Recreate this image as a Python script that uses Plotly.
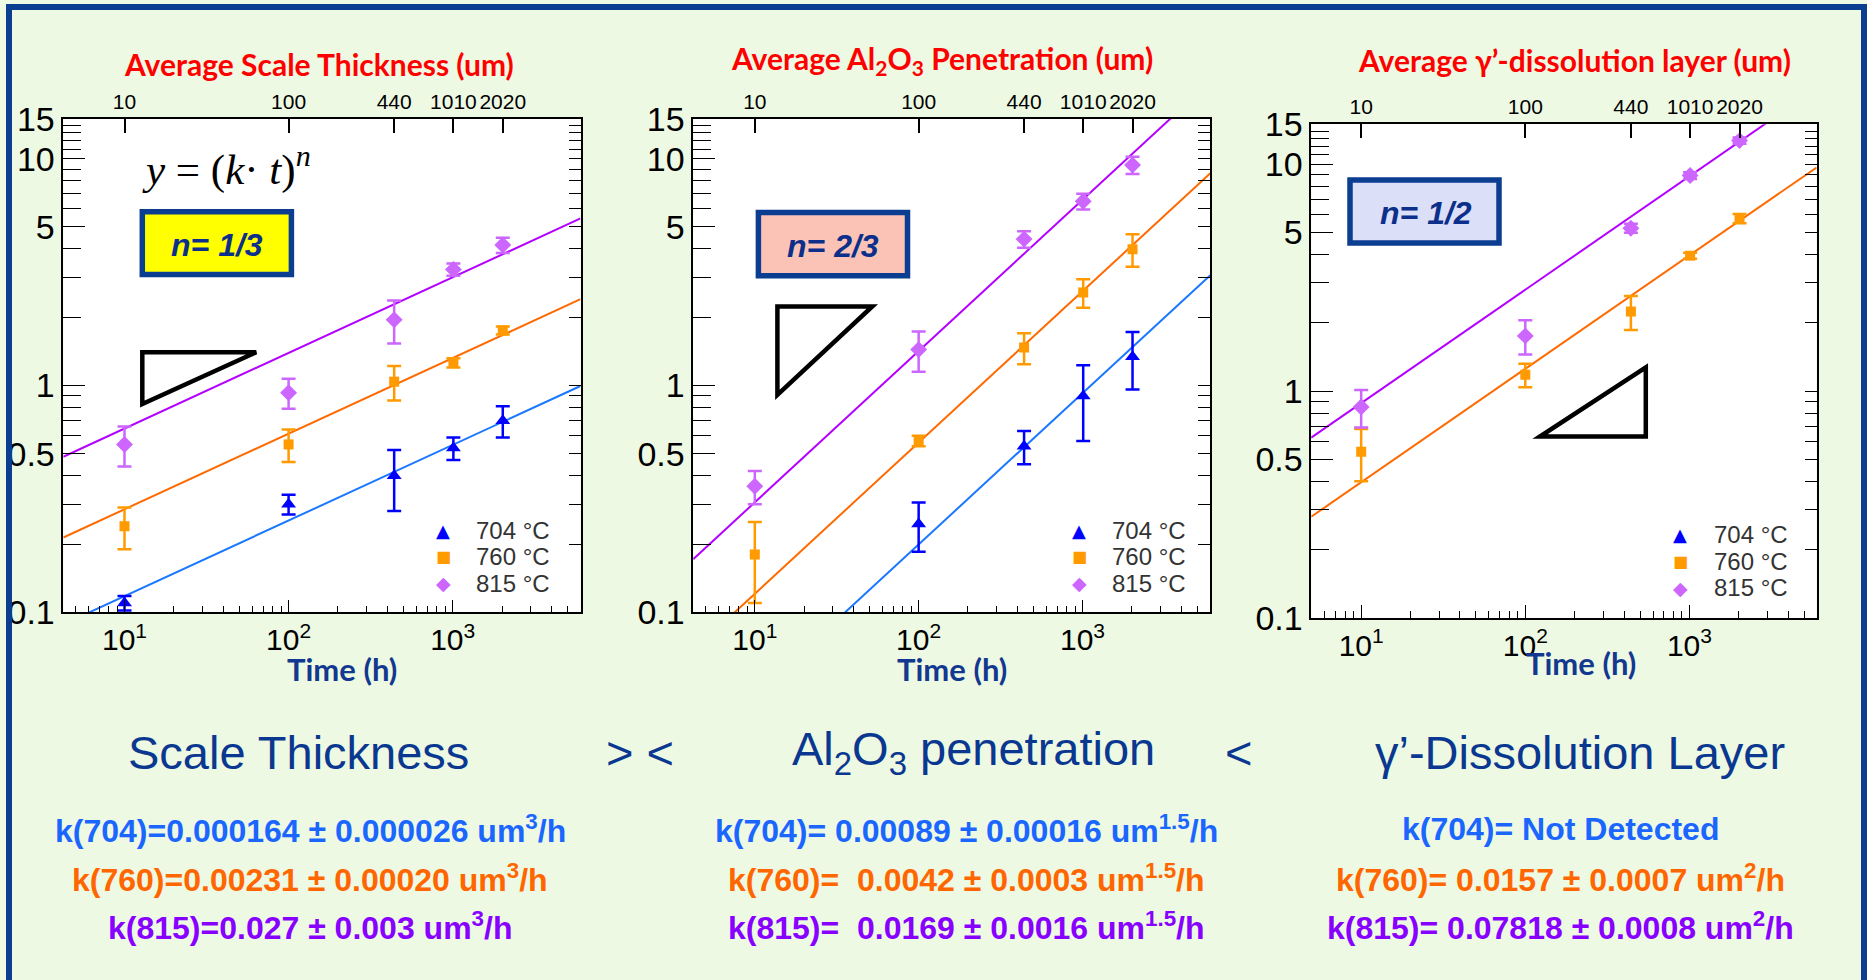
import plotly.graph_objects as go
import math

# ---------------- data ----------------
times = [10, 100, 440, 1010, 2020]
temps = ["704 °C", "760 °C", "815 °C"]

# Panel 1: average scale thickness (um)
scale_704 = [0.11, 0.30, 0.40, 0.53, 0.70]
scale_704_err = [0.008, 0.03, 0.12, 0.06, 0.11]
scale_760 = [0.24, 0.55, 1.04, 1.26, 1.75]
scale_760_err = [0.05, 0.09, 0.18, 0.06, 0.07]
scale_815 = [0.55, 0.93, 1.95, 3.25, 4.16]
scale_815_err = [0.11, 0.14, 0.42, 0.20, 0.32]

# Panel 2: average Al2O3 penetration (um)
pen_times_704 = [100, 440, 1010, 2020]
pen_704 = [0.245, 0.54, 0.90, 1.34]
pen_704_err = [0.06, 0.09, 0.33, 0.38]
pen_760 = [0.18, 0.57, 1.47, 2.57, 3.99]
pen_760_err = [0.07, 0.03, 0.23, 0.37, 0.65]
pen_815 = [0.36, 1.44, 4.42, 6.49, 9.38]
pen_815_err = [0.06, 0.29, 0.37, 0.52, 0.82]

# Panel 3: average gamma'-dissolution layer (um)
gam_704 = []
gam_760 = [0.54, 1.18, 2.24, 3.95, 5.76]
gam_760_err = [0.14, 0.14, 0.38, 0.12, 0.27]
gam_815 = [0.85, 1.75, 5.22, 8.91, 12.7]
gam_815_err = [0.16, 0.30, 0.24, 0.30, 0.40]

# fitted rate constants y = (k t)^n
n_exp = [1/3, 2/3, 1/2]
k_scale = [0.000164, 0.00231, 0.027]
k_pen = [0.00089, 0.0042, 0.0169]
k_gam = [None, 0.0157, 0.07818]

top_ticks = [10, 100, 440, 1010, 2020]
bottom_ticks = [10, 100, 1000]
bottom_ticktext = ["10<sup>1</sup>", "10<sup>2</sup>", "10<sup>3</sup>"]
y_major = [0.1, 0.5, 1, 5, 10, 15]
y_major_text = ["0.1", "0.5", "1", "5", "10", "15"]
y_minor = [0.2, 0.3, 0.4, 0.6, 0.7, 0.8, 0.9, 2, 3, 4, 6, 7, 8, 9, 11, 12, 13, 14]
x_minor = [4, 5, 6, 7, 8, 9, 20, 30, 40, 50, 60, 70, 80, 90,
           200, 300, 400, 500, 600, 700, 800, 900, 2000, 3000, 4000, 5000, 6000]

# ---------------- styling ----------------
W, H = 1867, 980
BG = "#EDF9E3"
DARK = "#0B3D91"
marker_colors = ["#0000FF", "#FF9A00", "#CC66FF"]
line_colors = ["#1A78FF", "#FF6A00", "#B400FF"]
symbols = ["triangle-up", "square", "diamond"]
legend_glyphs = ["▲", "■", "◆"]
legend_glyph_sizes = [18, 16, 19]
msizes = [13, 10, 13]
SANS = "Liberation Sans, Arial, sans-serif"
XTICKFONT = dict(family=SANS, size=30, color="black")
YTICKFONT = dict(family=SANS, size=34, color="black")


def px(x):
    return x / W


def py(y):
    return 1 - y / H


panels = [
    dict(xd=(63.3, 580.5), yd=(118.7, 612.4), xr=(0.627, 3.779)),
    dict(xd=(693.2, 1210.3), yd=(118.7, 612.4), xr=(0.624, 3.780)),
    dict(xd=(1311.2, 1816.6), yd=(124.2, 617.9), xr=(0.6955, 3.775)),
]
yr = (-1, math.log10(15))

fig = go.Figure()
layout = dict(
    width=W, height=H, margin=dict(l=0, r=0, t=0, b=0, pad=0, autoexpand=False),
    paper_bgcolor=BG, plot_bgcolor="white", showlegend=False,
)

for i, p in enumerate(panels):
    xb = 2 * i + 1
    xt = 2 * i + 2
    nb = "" if xb == 1 else str(xb)
    nt = str(xt)
    layout["xaxis" + nb] = dict(
        type="log", range=list(p["xr"]), domain=[px(p["xd"][0]), px(p["xd"][1])],
        anchor="y" + nb, side="bottom", showline=True, linecolor="black", linewidth=1.5,
        mirror=True, ticks="inside", ticklen=13, tickwidth=1.3, tickcolor="black",
        tickvals=bottom_ticks, ticktext=bottom_ticktext, tickfont=XTICKFONT,
        minor=dict(ticks="inside", ticklen=7, tickwidth=1.3, tickcolor="black", tickvals=x_minor),
        showgrid=False, zeroline=False, automargin=False,
    )
    layout["xaxis" + nt] = dict(
        type="log", range=list(p["xr"]), overlaying="x" + nb, anchor="y" + nt, side="top",
        domain=[px(p["xd"][0]), px(p["xd"][1])],
        showline=False, ticks="inside", ticklen=14, tickwidth=1.5, tickcolor="black",
        tickvals=top_ticks, ticktext=[str(t) for t in top_ticks], ticklabelstandoff=5,
        tickfont=dict(family=SANS, size=21, color="black"),
        showgrid=False, zeroline=False, automargin=False,
    )
    layout["yaxis" + nb] = dict(
        type="log", range=list(yr), domain=[py(p["yd"][1]), py(p["yd"][0])],
        anchor="x" + nb, side="left", showline=True, linecolor="black", linewidth=1.5,
        mirror=True, ticks="inside", ticklen=22, tickwidth=1.3, tickcolor="black",
        tickvals=y_major, ticktext=y_major_text, tickfont=YTICKFONT,
        minor=dict(ticks="inside", ticklen=18, tickwidth=1.3, tickcolor="black", tickvals=y_minor),
        showgrid=False, zeroline=False, automargin=False,
    )
    layout["yaxis" + nt] = dict(
        type="log", range=list(yr), overlaying="y" + nb, anchor="x" + nt, side="right",
        domain=[py(p["yd"][1]), py(p["yd"][0])],
        showline=False, ticks="inside", ticklen=12, tickwidth=1.3, tickcolor="black",
        tickvals=y_major + y_minor, showticklabels=False,
        showgrid=False, zeroline=False, automargin=False,
    )

datasets = [
    [(times, scale_704, scale_704_err), (times, scale_760, scale_760_err), (times, scale_815, scale_815_err)],
    [(pen_times_704, pen_704, pen_704_err), (times, pen_760, pen_760_err), (times, pen_815, pen_815_err)],
    [([], gam_704, []), (times, gam_760, gam_760_err), (times, gam_815, gam_815_err)],
]
kvals = [k_scale, k_pen, k_gam]

for i, p in enumerate(panels):
    nb = "" if i == 0 else str(2 * i + 1)
    nt = str(2 * i + 2)
    xa, ya = "x" + nb, "y" + nb
    # empty trace so the top/right tick axes are drawn
    fig.add_trace(go.Scatter(x=[None], y=[None], xaxis="x" + nt, yaxis="y" + nt,
                             mode="markers", showlegend=False, hoverinfo="skip"))
    # fit lines y = (k t)^n across the axis range
    for j in range(3):
        k = kvals[i][j]
        if k is None:
            continue
        t_ends = [10 ** p["xr"][0], 10 ** p["xr"][1]]
        y_ends = [(k * t) ** n_exp[i] for t in t_ends]
        fig.add_trace(go.Scatter(
            x=t_ends, y=y_ends, mode="lines", xaxis=xa, yaxis=ya,
            line=dict(color=line_colors[j], width=2), showlegend=False, hoverinfo="skip",
        ))
    # data points
    for j in range(3):
        tx, vy, ey = datasets[i][j]
        if not tx:
            continue
        fig.add_trace(go.Scatter(
            x=tx, y=vy, mode="markers", xaxis=xa, yaxis=ya, name=temps[j], showlegend=False,
            marker=dict(symbol=symbols[j], color=marker_colors[j], size=msizes[j]),
            error_y=dict(type="data", array=ey, color=marker_colors[j], thickness=2.5, width=7),
        ))

fig.update_layout(**layout)

annotations = []
shapes = []

# legends (symbol + label) inside each panel
legend_pos = [(443, 474, 530), (1079, 1110, 530), (1680, 1712, 534.5)]
row_gap = 26.5
for mx, tx, y0 in legend_pos:
    for j in range(3):
        yy = y0 + j * row_gap
        annotations.append(dict(text=legend_glyphs[j], x=px(mx), y=py(yy), xref="paper", yref="paper",
                                showarrow=False, xanchor="center", yanchor="middle",
                                font=dict(family="DejaVu Sans, sans-serif", size=legend_glyph_sizes[j],
                                          color=marker_colors[j])))
        annotations.append(dict(text=temps[j], x=px(tx), y=py(yy), xref="paper", yref="paper",
                                showarrow=False, xanchor="left", yanchor="middle",
                                font=dict(family=SANS, size=24, color="#333333")))

# frame border
shapes.append(dict(type="rect", xref="paper", yref="paper", x0=px(6), x1=px(12), y0=0, y1=py(4),
                   fillcolor=DARK, line_width=0, layer="above"))
shapes.append(dict(type="rect", xref="paper", yref="paper", x0=px(6), x1=px(1867), y0=py(10), y1=py(4),
                   fillcolor=DARK, line_width=0, layer="above"))
shapes.append(dict(type="rect", xref="paper", yref="paper", x0=px(1861), x1=px(1867), y0=0, y1=py(4),
                   fillcolor=DARK, line_width=0, layer="above"))

TITLEFONT = dict(family="Lato, Open Sans, sans-serif", size=30, color="#FF0000")
titles = [
    ("<b>Average Scale Thickness (um)</b>", 319, 64),
    ("<b>Average Al<sub>2</sub>O<sub>3</sub> Penetration (um)</b>", 942, 60),
    ("<b>Average γ’-dissolution layer (um)</b>", 1574, 60),
]
for txt, x, y in titles:
    annotations.append(dict(text=txt, x=px(x), y=py(y), xref="paper", yref="paper",
                            showarrow=False, font=TITLEFONT, xanchor="center", yanchor="middle"))

# Time (h) axis titles
for x, y in [(342, 669), (952, 669), (1581, 663)]:
    annotations.append(dict(text="<b>Time (h)</b>", x=px(x), y=py(y), xref="paper", yref="paper",
                            showarrow=False, xanchor="center", yanchor="middle",
                            font=dict(family="Lato, Open Sans, sans-serif", size=31, color="#12388F")))

# equation
annotations.append(dict(text="<i>y</i> = (<i>k</i>· <i>t</i>)<sup><i>n</i></sup>", x=px(226), y=py(166),
                        xref="paper", yref="paper", showarrow=False, xanchor="center", yanchor="middle",
                        font=dict(family="Liberation Serif, Times New Roman, serif", size=43, color="black")))

# n boxes
boxes = [
    ((142.3, 211.7, 291.4, 274.4), "#FFFF00", "n= 1/3", (217, 245)),
    ((758.4, 212.6, 907.5, 275.7), "#FBC3B6", "n= 2/3", (833, 246)),
    ((1350, 180, 1499, 243), "#DCDFF8", "n= 1/2", (1426, 213)),
]
for (x0, y0, x1, y1), fc, txt, (tx, ty) in boxes:
    shapes.append(dict(type="rect", xref="paper", yref="paper", x0=px(x0), x1=px(x1),
                       y0=py(y1), y1=py(y0), fillcolor=fc, line=dict(color=DARK, width=5.5)))
    annotations.append(dict(text="<b><i>" + txt + "</i></b>", x=px(tx), y=py(ty), xref="paper",
                            yref="paper", showarrow=False, xanchor="center", yanchor="middle",
                            font=dict(family=SANS, size=32, color="#0B2F8A")))

# slope triangles
tris = [
    [(142.3, 352.3), (256.2, 352.3), (142.3, 404.1)],
    [(777.4, 306.4), (872.3, 306.4), (777.4, 394.8)],
    [(1539.9, 436.5), (1645.8, 436.5), (1645.8, 367.4)],
]
for tri in tris:
    path = "M " + " L ".join(f"{px(a):.5f},{py(b):.5f}" for a, b in tri) + " Z"
    shapes.append(dict(type="path", xref="paper", yref="paper", path=path,
                       line=dict(color="black", width=4.5)))

# lower comparison text
BIG = dict(family=SANS, size=47, color="#0A3890")
for txt, x in [("Scale Thickness", 298), ("&gt; &lt;", 640),
               ("Al<sub>2</sub>O<sub>3</sub> penetration", 973), ("&lt;", 1238),
               ("γ’-Dissolution Layer", 1580)]:
    annotations.append(dict(text=txt, x=px(x), y=py(752), xref="paper", yref="paper",
                            showarrow=False, xanchor="center", yanchor="middle", font=BIG))

kcolors = ["#1A66FF", "#FF6600", "#8800FF"]
ktexts = [
    ["k(704)=0.000164 ± 0.000026 um<sup>3</sup>/h",
     "k(760)=0.00231 ± 0.00020 um<sup>3</sup>/h",
     "k(815)=0.027 ± 0.003 um<sup>3</sup>/h"],
    ["k(704)= 0.00089 ± 0.00016 um<sup>1.5</sup>/h",
     "k(760)=\u00a0 0.0042 ± 0.0003 um<sup>1.5</sup>/h",
     "k(815)=\u00a0 0.0169 ± 0.0016 um<sup>1.5</sup>/h"],
    ["k(704)= Not Detected",
     "k(760)= 0.0157 ± 0.0007 um<sup>2</sup>/h",
     "k(815)= 0.07818 ± 0.0008 um<sup>2</sup>/h"],
]
kx = [310, 967, 1560]
ky = [829, 878, 926]
for c in range(3):
    for r in range(3):
        annotations.append(dict(text="<b>" + ktexts[c][r] + "</b>", x=px(kx[c]), y=py(ky[r]),
                                xref="paper", yref="paper", showarrow=False, xanchor="center",
                                yanchor="middle",
                                font=dict(family=SANS, size=32, color=kcolors[r])))

fig.update_layout(annotations=annotations, shapes=shapes)
fig.write_html(
    "out.html",
    config={"displayModeBar": False},
    post_script=(
        "document.documentElement.style.margin='0';document.body.style.margin='0';"
        "document.body.style.overflow='hidden';"
        "var gd=document.getElementById('{plot_id}');gd.style.position='absolute';"
        "gd.style.left='0px';gd.style.top='0px';"
    ),
)
